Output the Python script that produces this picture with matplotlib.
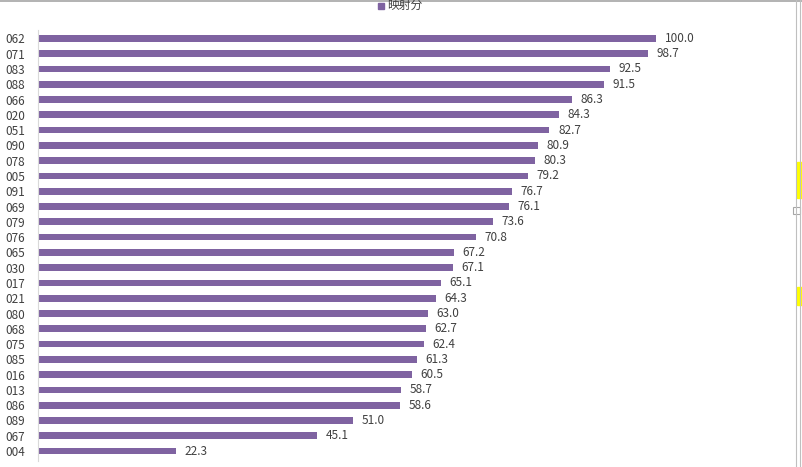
import numpy as np
import matplotlib
matplotlib.use("Agg")
import matplotlib.pyplot as plt
import matplotlib.patches as ptchs

plt.rcParams['font.family'] = ['Noto Sans CJK SC', 'DejaVu Sans']

# data, top to bottom
ids = ["062", "071", "083", "088", "066", "020", "051", "090", "078", "005",
       "091", "069", "079", "076", "065", "030", "017", "021", "080", "068",
       "075", "085", "016", "013", "086", "089", "067", "004"]
scores = [100.0, 98.7, 92.5, 91.5, 86.3, 84.3, 82.7, 80.9, 80.3, 79.2,
          76.7, 76.1, 73.6, 70.8, 67.2, 67.1, 65.1, 64.3, 63.0, 62.7,
          62.4, 61.3, 60.5, 58.7, 58.6, 51.0, 45.1, 22.3]
series_name = "映射分"

W, H = 802, 467
bar_col = '#7F63A1'

fig = plt.figure(figsize=(W / 100, H / 100), dpi=100)
ax = fig.add_axes([38 / W, 1 - 461 / H, (780 - 38) / W, (461 - 30) / H])

y = np.arange(len(ids))
ax.barh(y, scores, height=0.44, color=bar_col)
ax.set_ylim(len(ids) - 0.5 + 0.15, -0.5 - 0.05)
ax.set_xlim(0, 120)
ax.set_yticks(y)
ax.set_yticklabels(ids, fontsize=8.5, color='#404040')
ax.tick_params(axis='y', length=0, pad=9)
ax.set_xticks([])
for s in ['top', 'right', 'bottom']:
    ax.spines[s].set_visible(False)
ax.spines['left'].set_color('#D9D9D9')

for yi, v in zip(y, scores):
    ax.text(v + 1.4, yi, "{:.1f}".format(v), va='center', ha='left',
            fontsize=8.5, color='#404040')

# legend
fig.patches.append(ptchs.Rectangle((378 / W, 1 - 9 / H), 6 / W, 6 / H,
                                   transform=fig.transFigure, color=bar_col))
fig.text(387 / W, 1 - 5 / H, series_name, fontsize=8.5, color='#404040',
         va='center', ha='left')

# screenshot edges
fig.add_artist(plt.Line2D([0, 1], [1 - 0.5 / H, 1 - 0.5 / H], transform=fig.transFigure,
                          color='#A6A6A6', lw=1.2))
fig.add_artist(plt.Line2D([796 / W, 796 / W], [0, 1], transform=fig.transFigure,
                          color='#BFBFBF', lw=0.8))
fig.add_artist(plt.Line2D([800 / W, 800 / W], [0, 1], transform=fig.transFigure,
                          color='#BFBFBF', lw=0.8))
fig.patches.append(ptchs.Rectangle((797 / W, 1 - 198 / H), 5 / W, 36 / H,
                                   transform=fig.transFigure, color='#FFFF00'))
fig.patches.append(ptchs.Rectangle((797 / W, 1 - 305 / H), 5 / W, 18 / H,
                                   transform=fig.transFigure, color='#FFFF00'))
fig.patches.append(ptchs.Rectangle((793 / W, 1 - 214 / H), 7 / W, 7 / H,
                                   transform=fig.transFigure, facecolor='white',
                                   edgecolor='#A6A6A6', lw=0.8))

fig.savefig("out.png", dpi=100)
